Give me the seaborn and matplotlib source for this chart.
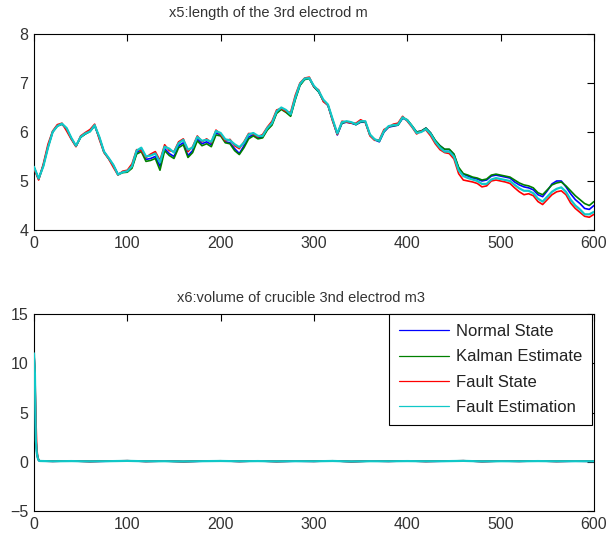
import matplotlib
matplotlib.use("Agg")
import matplotlib.pyplot as plt
import seaborn as sns
import pandas as pd

# ---------------- data ----------------
series_names = ["Normal State", "Kalman Estimate", "Fault State", "Fault Estimation"]
series_colors = ["#0000ff", "#008000", "#ff0000", "#10c8c8"]

# top panel: x5 length of the 3rd electrode (sampled every 5 steps)
x_top = list(range(0, 601, 5))

fault_est_x5 = [
    5.29, 5.05, 5.30, 5.68, 6.00, 6.12, 6.17, 6.08, 5.88, 5.72,
    5.90, 5.97, 6.01, 6.14, 5.90, 5.60, 5.47, 5.33, 5.13, 5.18,
    5.20, 5.30, 5.62, 5.68, 5.50, 5.52, 5.56, 5.38, 5.70, 5.66,
    5.58, 5.77, 5.84, 5.64, 5.68, 5.90, 5.82, 5.84, 5.80, 6.02,
    5.98, 5.85, 5.83, 5.75, 5.69, 5.78, 5.95, 5.98, 5.92, 5.92,
    6.08, 6.18, 6.42, 6.50, 6.45, 6.36, 6.70, 6.98, 7.09, 7.10,
    6.94, 6.84, 6.66, 6.56, 6.26, 5.97, 6.20, 6.22, 6.20, 6.16,
    6.22, 6.22, 5.95, 5.85, 5.82, 6.02, 6.12, 6.14, 6.15, 6.30,
    6.24, 6.12, 5.98, 6.00, 6.06, 5.96, 5.80, 5.68, 5.60, 5.60,
    5.50, 5.22, 5.10, 5.06, 5.03, 5.00, 4.94, 4.94, 5.03, 5.06,
    5.04, 5.02, 5.00, 4.92, 4.85, 4.80, 4.80, 4.75, 4.64, 4.58,
    4.68, 4.78, 4.84, 4.87, 4.78, 4.62, 4.50, 4.42, 4.32, 4.32,
    4.37,
]
fault_x5 = [
    5.25, 5.02, 5.35, 5.75, 6.02, 6.15, 6.18, 6.02, 5.85, 5.70,
    5.92, 5.99, 6.05, 6.16, 5.85, 5.58, 5.45, 5.28, 5.12, 5.20,
    5.22, 5.35, 5.64, 5.62, 5.48, 5.55, 5.60, 5.42, 5.74, 5.62,
    5.60, 5.80, 5.86, 5.60, 5.70, 5.92, 5.80, 5.86, 5.78, 6.04,
    5.95, 5.82, 5.85, 5.72, 5.66, 5.80, 5.97, 5.96, 5.90, 5.95,
    6.10, 6.22, 6.45, 6.48, 6.42, 6.40, 6.75, 7.00, 7.10, 7.12,
    6.92, 6.86, 6.62, 6.55, 6.22, 5.95, 6.22, 6.20, 6.18, 6.18,
    6.25, 6.20, 5.92, 5.83, 5.84, 6.05, 6.10, 6.16, 6.18, 6.32,
    6.22, 6.10, 5.96, 6.02, 6.04, 5.92, 5.76, 5.64, 5.58, 5.56,
    5.45, 5.15, 5.02, 5.00, 4.98, 4.95, 4.88, 4.90, 5.00, 5.02,
    5.00, 4.98, 4.95, 4.86, 4.78, 4.72, 4.74, 4.70, 4.58, 4.52,
    4.62, 4.72, 4.78, 4.80, 4.72, 4.55, 4.44, 4.36, 4.28, 4.26,
    4.32,
]
normal_x5 = [
    5.28, 5.04, 5.32, 5.70, 6.00, 6.13, 6.16, 6.06, 5.87, 5.71,
    5.90, 5.96, 6.02, 6.13, 5.88, 5.60, 5.46, 5.32, 5.14, 5.18,
    5.20, 5.28, 5.58, 5.64, 5.44, 5.46, 5.50, 5.30, 5.66, 5.56,
    5.50, 5.72, 5.78, 5.52, 5.62, 5.86, 5.76, 5.80, 5.74, 5.98,
    5.94, 5.80, 5.78, 5.66, 5.56, 5.72, 5.90, 5.94, 5.88, 5.90,
    6.06, 6.16, 6.40, 6.48, 6.42, 6.34, 6.68, 6.96, 7.08, 7.10,
    6.92, 6.82, 6.64, 6.54, 6.24, 5.94, 6.18, 6.20, 6.18, 6.15,
    6.20, 6.20, 5.94, 5.84, 5.80, 6.00, 6.10, 6.12, 6.14, 6.28,
    6.24, 6.12, 6.00, 6.02, 6.08, 5.98, 5.82, 5.72, 5.64, 5.64,
    5.54, 5.26, 5.14, 5.10, 5.06, 5.04, 5.00, 5.02, 5.10, 5.12,
    5.10, 5.08, 5.06, 4.98, 4.92, 4.88, 4.86, 4.82, 4.72, 4.68,
    4.80, 4.94, 5.00, 5.00, 4.88, 4.74, 4.62, 4.54, 4.44, 4.42,
    4.50,
]
kalman_x5 = [
    5.28, 5.04, 5.31, 5.69, 6.00, 6.12, 6.16, 6.07, 5.87, 5.71,
    5.89, 5.96, 6.01, 6.13, 5.89, 5.59, 5.46, 5.32, 5.13, 5.17,
    5.18, 5.26, 5.55, 5.60, 5.40, 5.42, 5.46, 5.22, 5.62, 5.52,
    5.46, 5.68, 5.74, 5.48, 5.58, 5.82, 5.72, 5.76, 5.70, 5.94,
    5.92, 5.78, 5.76, 5.62, 5.54, 5.68, 5.86, 5.92, 5.86, 5.88,
    6.04, 6.14, 6.38, 6.46, 6.40, 6.32, 6.66, 6.95, 7.07, 7.09,
    6.92, 6.82, 6.64, 6.55, 6.25, 5.96, 6.18, 6.21, 6.19, 6.15,
    6.21, 6.21, 5.94, 5.85, 5.81, 6.01, 6.11, 6.13, 6.14, 6.29,
    6.25, 6.13, 6.00, 6.02, 6.08, 5.98, 5.83, 5.72, 5.65, 5.65,
    5.55, 5.28, 5.15, 5.12, 5.08, 5.06, 5.02, 5.04, 5.12, 5.14,
    5.12, 5.10, 5.08, 5.02, 4.96, 4.92, 4.90, 4.86, 4.76, 4.72,
    4.82, 4.92, 4.96, 4.98, 4.90, 4.80, 4.70, 4.62, 4.54, 4.50,
    4.58,
]

# bottom panel: x6 volume of crucible (first steps, then every 20 steps)
x_bot = [0, 1, 2, 3, 4, 5, 6] + list(range(20, 601, 20))

normal_x6 = [11.0, 8.8, 2.4, 1.0, 0.40, 0.15, 0.08,
             0.05, 0.08, 0.03, 0.06, 0.10, 0.04, 0.07, 0.02, 0.06, 0.09,
             0.04, 0.08, 0.03, 0.06, 0.05, 0.09, 0.02, 0.07, 0.05, 0.08,
             0.04, 0.06, 0.10, 0.03, 0.07, 0.05, 0.08, 0.04, 0.06, 0.05]
kalman_x6 = [11.0, 8.8, 2.5, 1.0, 0.45, 0.18, 0.10,
             0.06, 0.07, 0.04, 0.08, 0.09, 0.05, 0.06, 0.03, 0.07, 0.08,
             0.05, 0.07, 0.04, 0.07, 0.06, 0.08, 0.03, 0.06, 0.06, 0.07,
             0.05, 0.07, 0.09, 0.04, 0.06, 0.06, 0.07, 0.05, 0.07, 0.06]
fault_x6 = [11.0, 9.0, 4.6, 1.4, 0.50, 0.20, 0.08,
            0.04, 0.09, 0.02, 0.07, 0.11, 0.03, 0.08, 0.01, 0.07, 0.10,
            0.03, 0.09, 0.02, 0.07, 0.04, 0.10, 0.01, 0.08, 0.04, 0.09,
            0.03, 0.07, 0.11, 0.02, 0.08, 0.04, 0.09, 0.03, 0.07, 0.04]
fault_est_x6 = [11.0, 8.9, 2.2, 0.9, 0.40, 0.15, 0.08,
                0.05, 0.07, 0.04, 0.06, 0.09, 0.05, 0.06, 0.03, 0.06, 0.08,
                0.05, 0.07, 0.04, 0.06, 0.05, 0.08, 0.03, 0.06, 0.05, 0.07,
                0.05, 0.06, 0.09, 0.04, 0.06, 0.05, 0.07, 0.05, 0.06, 0.05]

top_title = "x5:length of the 3rd electrod m"
bot_title = "x6:volume of crucible 3nd electrod m3"
x_ticks = [0, 100, 200, 300, 400, 500, 600]
top_yticks = [4, 5, 6, 7, 8]
bot_yticks = [-5, 0, 5, 10, 15]

top_cols = [normal_x5, kalman_x5, fault_x5, fault_est_x5]
bot_cols = [normal_x6, kalman_x6, fault_x6, fault_est_x6]
line_widths = [1.2, 1.2, 1.2, 1.6]

# ---------------- plot ----------------
sns.set_style("white")
plt.rcParams["font.family"] = ["Liberation Sans", "DejaVu Sans"]

fig = plt.figure(figsize=(6.09, 5.39), dpi=100)
ax1 = fig.add_axes([0.0558, 0.5733, 0.9195, 0.3636])
ax2 = fig.add_axes([0.0558, 0.0519, 0.9195, 0.3655])

# draw in MATLAB order so that the last series (Fault Estimation) is on top
for i, (name, color) in enumerate(zip(series_names, series_colors)):
    d_top = pd.DataFrame({"x": x_top, "v": top_cols[i]})
    d_bot = pd.DataFrame({"x": x_bot, "v": bot_cols[i]})
    sns.lineplot(data=d_top, x="x", y="v", color=color, estimator=None,
                 linewidth=line_widths[i], ax=ax1, zorder=3 + i)
    sns.lineplot(data=d_bot, x="x", y="v", color=color, estimator=None,
                 linewidth=line_widths[i], ax=ax2, zorder=3 + i, label=name)

for ax, yt in ((ax1, top_yticks), (ax2, bot_yticks)):
    ax.set_xlim(0, 600)
    ax.set_ylim(yt[0], yt[-1])
    ax.set_xticks(x_ticks)
    ax.set_yticks(yt)
    ax.set_xlabel("")
    ax.set_ylabel("")
    ax.tick_params(direction="in", top=True, right=True, length=5, width=0.8,
                   color="black", labelcolor="#333333", labelsize=11.5, pad=4)
    for s in ax.spines.values():
        s.set_color("black")
        s.set_linewidth(0.8)
        s.set_zorder(2.5)
    ax.set_facecolor("white")

ax1.text(0.418, 1.107, top_title, transform=ax1.transAxes, ha="center", va="center",
         fontsize=10.5, color="#333333")
ax2.text(0.477, 1.081, bot_title, transform=ax2.transAxes, ha="center", va="center",
         fontsize=10.5, color="#333333")

handles, labels = ax2.get_legend_handles_labels()
leg = ax2.legend(handles, labels, loc="upper right", bbox_to_anchor=(0.997, 1.0),
                 borderaxespad=0.0, frameon=True, fancybox=False, framealpha=1,
                 edgecolor="black", fontsize=12, handlelength=3.0, labelspacing=0.62,
                 borderpad=0.6, handletextpad=0.45)
leg.set_zorder(20)
leg.get_frame().set_linewidth(0.8)
for line in leg.get_lines():
    line.set_linewidth(0.9)
for t in leg.get_texts():
    t.set_color("#222222")

fig.savefig("out.png", dpi=100)
